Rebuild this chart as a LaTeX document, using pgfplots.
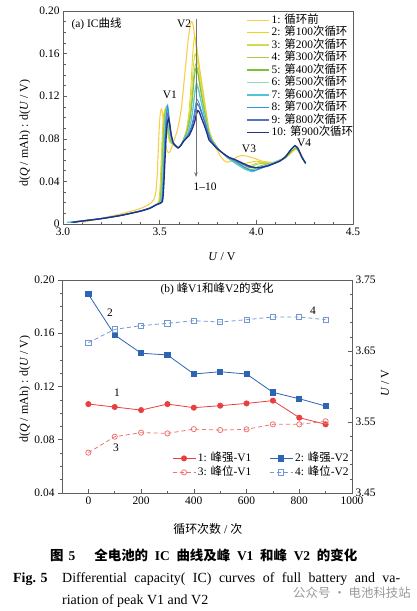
\documentclass[border=0pt]{standalone}
\usepackage{fontspec}
\setmainfont{Liberation Serif}
\newfontfamily\cjk{Noto Sans CJK SC}
\usepackage{pgfplots}
\pgfplotsset{compat=1.18}
\usetikzlibrary{arrows.meta}
\newcommand{\zh}[1]{{\cjk #1}}
\newcommand{\fs}[1]{\fontsize{#1}{#1}\selectfont}
\definecolor{c1}{RGB}{250,205,75}
\definecolor{c2}{RGB}{232,214,30}
\definecolor{c3}{RGB}{205,222,85}
\definecolor{c4}{RGB}{170,205,70}
\definecolor{c5}{RGB}{125,192,60}
\definecolor{c6}{RGB}{150,215,195}
\definecolor{c7}{RGB}{80,195,215}
\definecolor{c8}{RGB}{40,150,225}
\definecolor{c9}{RGB}{85,115,195}
\definecolor{c10}{RGB}{30,50,140}
\definecolor{rd}{RGB}{232,64,64}
\definecolor{lrd}{RGB}{240,115,115}
\definecolor{bl}{RGB}{45,100,180}
\definecolor{lbl}{RGB}{115,150,212}
\definecolor{axc}{RGB}{95,95,95}
\pgfplotsset{
  every axis/.append style={
    scale only axis, width=290bp, height=213bp,
    axis line style={axc, line width=0.7bp},
    tick style={axc, line width=0.6bp},
    major tick length=4bp, minor tick length=2.5bp,
    tick label style={font=\fs{11.5}},
    label style={font=\fs{12}},
  }
}
\begin{document}
\begin{tikzpicture}
\useasboundingbox (0,0) rectangle (417bp,-611bp);
% ---------------- (a) IC curves ----------------
\begin{axis}[
  at={(63bp,-224bp)}, anchor=south west,
  xmin=3.0, xmax=4.5, ymin=0, ymax=0.2,
  xtick={3.0,3.5,4.0,4.5}, xticklabels={3.0,3.5,4.0,4.5},
  ytick={0,0.04,0.08,0.12,0.16,0.2}, yticklabels={0,0.04,0.08,0.12,0.16,0.20},
  minor x tick num=4, minor y tick num=3,
  xtick pos=left, ytick pos=left, tick align=inside,
  xlabel={\textit{U} / V},
  ylabel={d(\textit{Q} / mAh) : d(\textit{U} / V)},
  xlabel style={at={(axis description cs:0.548,-0.155)}, anchor=center},
  ylabel style={at={(axis description cs:-0.131,0.427)}, anchor=center},
  legend style={at={(axis description cs:0.631,0.981)}, anchor=north west,
    draw=none, fill=none, inner sep=0pt, font=\fs{11.5}, row sep=2.5bp,
    nodes={inner ysep=0pt, text height=8bp, text depth=2bp}},
  legend cell align=left,
  legend image code/.code={\draw[#1, line width=1.5bp] (0bp,0bp) -- (22bp,0bp);},
  every axis plot/.append style={smooth, tension=0.3},
]
\addplot[c1, line width=1.1bp] coordinates {(3.10,0.0015)(3.20,0.0055)(3.30,0.0095)(3.40,0.0145)(3.45,0.0190)(3.47,0.0230)(3.480,0.030)(3.487,0.045)(3.493,0.070)(3.499,0.095)(3.505,0.106)(3.510,0.108)(3.516,0.102)(3.522,0.088)(3.530,0.075)(3.540,0.068)(3.550,0.067)(3.560,0.071)(3.575,0.079)(3.590,0.087)(3.603,0.098)(3.615,0.113)(3.631,0.143)(3.648,0.174)(3.658,0.187)(3.666,0.190)(3.674,0.186)(3.683,0.174)(3.696,0.158)(3.710,0.142)(3.725,0.124)(3.740,0.106)(3.755,0.089)(3.770,0.080)(3.790,0.072)(3.810,0.065)(3.830,0.060)(3.850,0.058)(3.870,0.059)(3.890,0.062)(3.915,0.064)(3.945,0.064)(3.975,0.0625)(4.00,0.061)(4.03,0.059)(4.07,0.058)(4.11,0.058)(4.14,0.061)(4.17,0.065)(4.195,0.069)(4.215,0.071)(4.23,0.066)(4.255,0.057)};
\addlegendentry{1: \zh{循环前}}
\addplot[c2, line width=0.9bp] coordinates {(3.06,0.0015)(3.10,0.0028)(3.20,0.0052)(3.30,0.0082)(3.40,0.0122)(3.45,0.0150)(3.48,0.0180)(3.495,0.021)(3.502,0.035)(3.508,0.060)(3.514,0.086)(3.520,0.102)(3.527,0.107)(3.533,0.097)(3.541,0.086)(3.552,0.077)(3.595,0.0715)(3.610,0.074)(3.625,0.080)(3.640,0.090)(3.652,0.106)(3.662,0.130)(3.671,0.160)(3.680,0.176)(3.690,0.170)(3.700,0.155)(3.710,0.140)(3.725,0.122)(3.740,0.104)(3.755,0.088)(3.770,0.080)(3.790,0.074)(3.81,0.069)(3.83,0.066)(3.86,0.061)(3.90,0.058)(3.94,0.057)(3.97,0.058)(4.00,0.059)(4.04,0.058)(4.08,0.057)(4.12,0.060)(4.15,0.062)(4.18,0.068)(4.205,0.0715)(4.22,0.068)(4.24,0.061)(4.255,0.057)};
\addlegendentry{2: \zh{第}100\zh{次循环}}
\addplot[c3, line width=0.9bp] coordinates {(3.06,0.0015)(3.10,0.0028)(3.20,0.0052)(3.30,0.0082)(3.40,0.0122)(3.45,0.0150)(3.48,0.0180)(3.498,0.021)(3.505,0.035)(3.511,0.060)(3.517,0.086)(3.523,0.102)(3.530,0.108)(3.536,0.098)(3.544,0.086)(3.555,0.077)(3.595,0.0715)(3.610,0.074)(3.625,0.080)(3.640,0.088)(3.655,0.104)(3.665,0.124)(3.675,0.150)(3.683,0.160)(3.693,0.155)(3.700,0.147)(3.710,0.134)(3.725,0.117)(3.740,0.101)(3.755,0.087)(3.770,0.080)(3.790,0.074)(3.81,0.069)(3.83,0.066)(3.86,0.061)(3.90,0.057)(3.94,0.054)(3.97,0.055)(4.00,0.057)(4.03,0.058)(4.07,0.057)(4.12,0.060)(4.15,0.062)(4.18,0.068)(4.205,0.0715)(4.22,0.068)(4.24,0.061)(4.255,0.057)};
\addlegendentry{3: \zh{第}200\zh{次循环}}
\addplot[c4, line width=0.9bp] coordinates {(3.06,0.0015)(3.10,0.0028)(3.20,0.0052)(3.30,0.0082)(3.40,0.0122)(3.45,0.0150)(3.48,0.0180)(3.500,0.021)(3.507,0.035)(3.513,0.060)(3.519,0.086)(3.525,0.102)(3.532,0.109)(3.538,0.099)(3.546,0.086)(3.557,0.077)(3.595,0.0715)(3.610,0.074)(3.625,0.080)(3.640,0.087)(3.657,0.102)(3.668,0.120)(3.677,0.140)(3.685,0.150)(3.695,0.146)(3.710,0.129)(3.725,0.113)(3.740,0.099)(3.755,0.086)(3.770,0.079)(3.790,0.074)(3.81,0.069)(3.83,0.066)(3.86,0.061)(3.90,0.057)(3.94,0.053)(3.97,0.053)(4.00,0.056)(4.04,0.057)(4.08,0.057)(4.12,0.060)(4.15,0.062)(4.18,0.068)(4.205,0.0715)(4.22,0.068)(4.24,0.061)(4.255,0.057)};
\addlegendentry{4: \zh{第}300\zh{次循环}}
\addplot[c5, line width=0.9bp] coordinates {(3.06,0.0015)(3.10,0.0028)(3.20,0.0052)(3.30,0.0082)(3.40,0.0122)(3.45,0.0150)(3.48,0.0180)(3.503,0.021)(3.510,0.035)(3.516,0.060)(3.522,0.086)(3.528,0.102)(3.535,0.110)(3.541,0.100)(3.549,0.086)(3.560,0.077)(3.595,0.0715)(3.610,0.074)(3.625,0.080)(3.640,0.086)(3.659,0.100)(3.670,0.118)(3.679,0.137)(3.687,0.146)(3.697,0.142)(3.710,0.127)(3.725,0.112)(3.740,0.098)(3.755,0.086)(3.770,0.079)(3.790,0.074)(3.81,0.069)(3.83,0.066)(3.86,0.061)(3.90,0.057)(3.94,0.053)(3.98,0.051)(4.01,0.054)(4.05,0.056)(4.08,0.057)(4.12,0.060)(4.15,0.062)(4.18,0.068)(4.205,0.0715)(4.22,0.068)(4.24,0.061)(4.255,0.057)};
\addlegendentry{5: \zh{第}400\zh{次循环}}
\addplot[c6, line width=1.1bp] coordinates {(3.02,0.0015)(3.10,0.0030)(3.20,0.0052)(3.30,0.0082)(3.40,0.0122)(3.45,0.0150)(3.48,0.0180)(3.506,0.021)(3.513,0.035)(3.519,0.060)(3.525,0.086)(3.531,0.102)(3.538,0.110)(3.544,0.100)(3.552,0.086)(3.563,0.077)(3.595,0.0715)(3.610,0.074)(3.625,0.079)(3.645,0.085)(3.662,0.097)(3.673,0.110)(3.682,0.125)(3.690,0.133)(3.700,0.128)(3.710,0.120)(3.725,0.107)(3.740,0.095)(3.755,0.084)(3.770,0.078)(3.790,0.073)(3.81,0.069)(3.83,0.066)(3.86,0.061)(3.90,0.056)(3.94,0.052)(3.98,0.050)(4.02,0.053)(4.06,0.056)(4.12,0.060)(4.15,0.063)(4.18,0.070)(4.20,0.0735)(4.215,0.071)(4.235,0.063)(4.255,0.057)};
\addlegendentry{6: \zh{第}500\zh{次循环}}
\addplot[c7, line width=0.9bp] coordinates {(3.02,0.0015)(3.10,0.0030)(3.20,0.0052)(3.30,0.0082)(3.40,0.0122)(3.45,0.0150)(3.48,0.0180)(3.508,0.021)(3.515,0.035)(3.521,0.060)(3.527,0.086)(3.533,0.102)(3.540,0.111)(3.546,0.101)(3.554,0.086)(3.565,0.077)(3.595,0.0715)(3.610,0.074)(3.625,0.079)(3.645,0.085)(3.662,0.096)(3.673,0.109)(3.682,0.123)(3.690,0.130)(3.700,0.126)(3.710,0.118)(3.725,0.106)(3.740,0.094)(3.755,0.084)(3.770,0.078)(3.790,0.073)(3.81,0.069)(3.83,0.066)(3.86,0.061)(3.90,0.056)(3.94,0.0515)(3.98,0.049)(4.02,0.052)(4.06,0.055)(4.12,0.059)(4.15,0.063)(4.18,0.070)(4.20,0.0735)(4.215,0.071)(4.235,0.063)(4.255,0.057)};
\addlegendentry{7: \zh{第}600\zh{次循环}}
\addplot[c8, line width=0.9bp] coordinates {(3.04,0.0015)(3.10,0.0029)(3.20,0.0052)(3.30,0.0082)(3.40,0.0122)(3.45,0.0150)(3.48,0.0180)(3.510,0.021)(3.517,0.035)(3.523,0.060)(3.529,0.086)(3.535,0.102)(3.542,0.111)(3.548,0.101)(3.556,0.086)(3.567,0.077)(3.595,0.0715)(3.610,0.074)(3.625,0.078)(3.648,0.084)(3.666,0.093)(3.677,0.102)(3.686,0.112)(3.693,0.117)(3.703,0.114)(3.715,0.107)(3.730,0.098)(3.745,0.089)(3.760,0.081)(3.775,0.076)(3.790,0.073)(3.81,0.069)(3.83,0.066)(3.86,0.062)(3.90,0.058)(3.94,0.053)(3.98,0.050)(4.02,0.052)(4.06,0.055)(4.12,0.059)(4.15,0.063)(4.18,0.070)(4.20,0.0735)(4.215,0.071)(4.235,0.063)(4.255,0.057)};
\addlegendentry{8: \zh{第}700\zh{次循环}}
\addplot[c9, line width=1.1bp] coordinates {(3.04,0.0015)(3.10,0.0029)(3.20,0.0052)(3.30,0.0082)(3.40,0.0122)(3.45,0.0150)(3.48,0.0180)(3.512,0.021)(3.519,0.035)(3.525,0.060)(3.531,0.084)(3.537,0.099)(3.544,0.105)(3.550,0.097)(3.558,0.085)(3.569,0.076)(3.595,0.0715)(3.610,0.074)(3.625,0.078)(3.650,0.084)(3.668,0.092)(3.679,0.100)(3.688,0.109)(3.695,0.113)(3.705,0.110)(3.715,0.105)(3.730,0.097)(3.745,0.088)(3.760,0.080)(3.775,0.076)(3.790,0.072)(3.81,0.069)(3.83,0.066)(3.86,0.062)(3.89,0.060)(3.93,0.056)(3.97,0.053)(4.01,0.053)(4.06,0.055)(4.12,0.059)(4.15,0.063)(4.18,0.070)(4.20,0.0735)(4.215,0.071)(4.235,0.063)(4.255,0.057)};
\addlegendentry{9: \zh{第}800\zh{次循环}}
\addplot[c10, line width=1.3bp] coordinates {(3.05,0.0015)(3.10,0.0028)(3.20,0.0050)(3.30,0.0080)(3.40,0.0120)(3.45,0.0148)(3.48,0.0178)(3.514,0.021)(3.521,0.035)(3.527,0.058)(3.533,0.080)(3.539,0.094)(3.546,0.099)(3.552,0.094)(3.560,0.084)(3.571,0.076)(3.595,0.0715)(3.610,0.074)(3.625,0.078)(3.652,0.083)(3.670,0.090)(3.681,0.096)(3.690,0.103)(3.697,0.1065)(3.705,0.105)(3.715,0.100)(3.730,0.093)(3.745,0.085)(3.755,0.079)(3.770,0.076)(3.790,0.072)(3.81,0.069)(3.83,0.066)(3.86,0.0625)(3.89,0.0605)(3.93,0.057)(3.97,0.054)(4.01,0.0527)(4.06,0.0545)(4.12,0.059)(4.15,0.063)(4.18,0.070)(4.20,0.0735)(4.215,0.071)(4.235,0.063)(4.255,0.057)};
\addlegendentry{10: \zh{第}900\zh{次循环}}
\draw[-{Stealth[length=5bp,width=3.5bp]}, black!55, line width=0.6bp] (axis cs:3.688,0.1925) -- (axis cs:3.688,0.044);
\node[font=\fs{11.5}, anchor=west] at (axis cs:3.026,0.1878) {(a) IC\zh{曲线}};
\node[font=\fs{11.5}] at (axis cs:3.626,0.1878) {V2};
\node[font=\fs{11.5}] at (axis cs:3.553,0.121) {V1};
\node[font=\fs{11.5}] at (axis cs:3.962,0.0704) {V3};
\node[font=\fs{11.5}] at (axis cs:4.247,0.076) {V4};
\node[font=\fs{11.5}] at (axis cs:3.735,0.0347) {1--10};
\end{axis}
% ---------------- (b) left-axis ticks (outward) ----------------
\begin{axis}[
  at={(62bp,-493bp)}, anchor=south west,
  xmin=-100, xmax=1000, ymin=0.04, ymax=0.20,
  xtick=\empty,
  ytick={0.04,0.08,0.12,0.16,0.2}, yticklabels={0.04,0.08,0.12,0.16,0.20},
  minor y tick num=3, ytick pos=left, tick align=outside,
  ylabel={d(\textit{Q} / mAh) : d(\textit{U} / V)},
  ylabel style={at={(axis description cs:-0.128,0.488)}, anchor=center},
]
\end{axis}
% ---------------- (b) x axis + intensity series ----------------
\begin{axis}[
  at={(62bp,-493bp)}, anchor=south west,
  xmin=-100, xmax=1000, ymin=0.04, ymax=0.20,
  ytick=\empty,
  xtick={0,200,400,600,800,1000}, xticklabels={0,200,400,600,800,1000},
  minor x tick num=1, xtick pos=left, tick align=inside,
  xlabel={\zh{循环次数} / \zh{次}},
  xlabel style={at={(axis description cs:0.503,-0.168)}, anchor=center},
]
\addplot[rd, line width=0.8bp, mark=*, mark size=2.6bp, mark options={fill=rd}] coordinates {(0,0.1068)(100,0.1046)(200,0.1023)(300,0.1068)(400,0.1041)(500,0.1056)(600,0.1073)(700,0.1094)(800,0.0966)(900,0.0916)};
\addplot[bl, line width=0.8bp, mark=square*, mark size=2.6bp, mark options={fill=bl}] coordinates {(0,0.1893)(100,0.1587)(200,0.1450)(300,0.1437)(400,0.1294)(500,0.1311)(600,0.1294)(700,0.1156)(800,0.1108)(900,0.1053)};
\node[font=\fs{11.5}] at (axis cs:488,0.1932) {(b) \zh{峰}V1\zh{和峰}V2\zh{的变化}};
\node[font=\fs{11.5}] at (axis cs:82,0.1752) {2};
\node[font=\fs{11.5}] at (axis cs:852,0.1767) {4};
\node[font=\fs{11.5}] at (axis cs:109,0.1151) {1};
\node[font=\fs{11.5}] at (axis cs:105,0.0738) {3};
\end{axis}
% ---------------- (b) right axis: peak positions ----------------
\begin{axis}[
  at={(62bp,-493bp)}, anchor=south west,
  xmin=-100, xmax=1000, ymin=3.45, ymax=3.75,
  xtick=\empty,
  ytick={3.45,3.55,3.65,3.75}, yticklabels={3.45,3.55,3.65,3.75},
  minor y tick num=4, ytick pos=right, yticklabel pos=right, tick align=inside,
  ylabel={\textit{U} / V},
  ylabel style={at={(axis description cs:1.114,0.516)}, anchor=center},
  legend columns=2,
  legend style={at={(axis description cs:0.379,0.187)}, anchor=north west,
    draw=none, fill=none, inner sep=0pt, font=\fs{11.5}, row sep=4bp,
    /tikz/column 2/.style={column sep=16bp},
    nodes={inner ysep=0pt, text height=8bp, text depth=2bp}},
  legend cell align=left,
  legend image code/.code={\draw[mark repeat=2,mark phase=2,#1] plot coordinates {(0bp,0bp) (11.5bp,0bp) (23bp,0bp)};},
]
\addlegendimage{rd, line width=0.8bp, mark=*, mark size=2.6bp, mark options={fill=rd}}
\addlegendentry{1: \zh{峰强}-V1}
\addlegendimage{bl, line width=0.8bp, mark=square*, mark size=2.6bp, mark options={fill=bl}}
\addlegendentry{2: \zh{峰强}-V2}
\addplot[lrd, line width=0.8bp, dash pattern=on 4bp off 3bp, mark=o, mark size=2.6bp, mark options={solid, fill=white}] coordinates {(0,3.5068)(100,3.5293)(200,3.5350)(300,3.5340)(400,3.5400)(500,3.5387)(600,3.5397)(700,3.5467)(800,3.5467)(900,3.5510)};
\addlegendentry{3: \zh{峰位}-V1}
\addplot[lbl, line width=0.8bp, dash pattern=on 4bp off 3bp, mark=square, mark size=2.6bp, mark options={solid, fill=white}] coordinates {(0,3.6617)(100,3.6805)(200,3.6857)(300,3.6890)(400,3.6927)(500,3.6908)(600,3.6941)(700,3.6979)(800,3.6979)(900,3.6941)};
\addlegendentry{4: \zh{峰位}-V2}
\end{axis}
% ---------------- caption ----------------
\node[anchor=base west, inner sep=0pt, font=\fs{13.5}\bfseries] at (50bp,-560bp) {\zh{图}\hspace{5bp}5\hspace{19bp}\zh{全电池的}\hspace{6.7bp}IC\hspace{6.7bp}\zh{曲线及峰}\hspace{6.7bp}V1\hspace{6.7bp}\zh{和峰}\hspace{6.7bp}V2\hspace{6.7bp}\zh{的变化}};
\node[anchor=base west, inner sep=0pt, font=\fs{14}\bfseries] at (13bp,-582bp) {Fig. 5};
\node[anchor=base west, inner sep=0pt, font=\fs{14}] at (62bp,-582bp) {\makebox[338bp][s]{Differential capacity( IC) curves of full battery and va-}};
\node[anchor=base west, inner sep=0pt, font=\fs{14}] at (62bp,-604bp) {riation of peak V1 and V2};
\node[anchor=base west, inner sep=0pt, font=\fs{12.5}, text=black!40] at (293bp,-597bp) {\zh{公众号 · 电池科技站}};
\end{tikzpicture}
\end{document}
